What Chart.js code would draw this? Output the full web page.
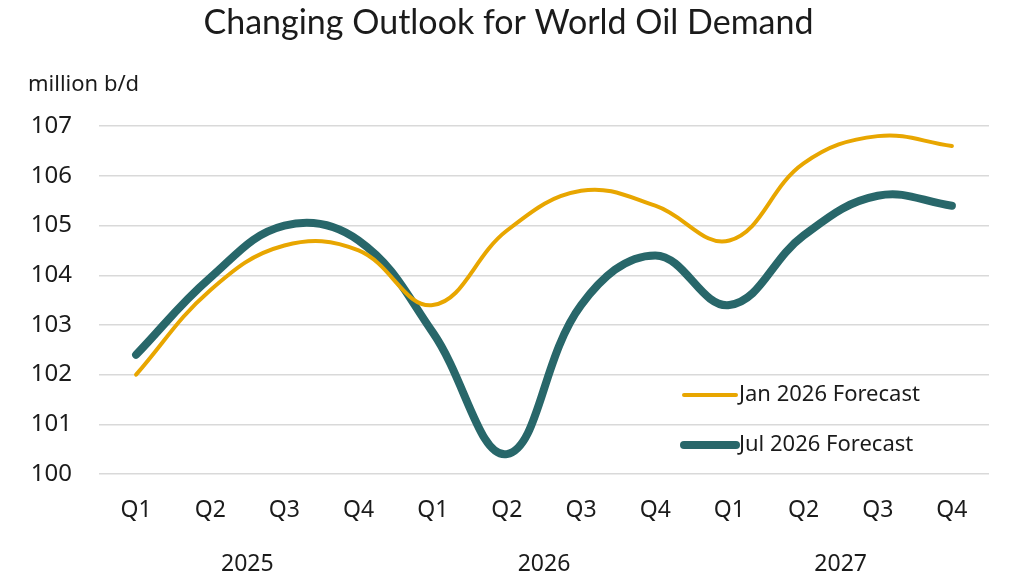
<!DOCTYPE html>
<html>
<head>
<meta charset="utf-8">
<title>Changing Outlook for World Oil Demand</title>
<script src="https://cdn.jsdelivr.net/npm/chart.js@4.4.1/dist/chart.umd.min.js"></script>
<style>
    html, body { margin: 0; padding: 0; background: #fff; }
    #wrap { width: 1024px; height: 579px; }
</style>
</head>
<body>
<div id="wrap"><canvas id="myChart" width="1024" height="579"></canvas></div>
<script>
// data
const quarters = ['Q1', 'Q2', 'Q3', 'Q4', 'Q1', 'Q2', 'Q3', 'Q4', 'Q1', 'Q2', 'Q3', 'Q4']
const years = ['2025', '2026', '2027']
const jan2026 = [102.0, 103.7, 104.6, 104.5, 103.4, 104.9, 105.7, 105.4, 104.7, 106.25, 106.8, 106.6]
const jul2026 = [102.4, 103.95, 105.0, 104.7, 102.85, 100.4, 103.4, 104.4, 103.4, 104.8, 105.6, 105.4]
const yTicks = [100, 107]

const GOLD = '#E8A600'
const TEAL = '#28676A'
const TEXT = '#1b1b1b'

// legend drawn inside the plot, next to the lower right corner
const insideLegend = {
    id: 'insideLegend',
    afterDatasetsDraw(chart, args, opts) {
        const ctx = chart.ctx
        ctx.save()
        chart.data.datasets.forEach((ds, i) => {
            const y = opts.top + i * opts.gap
            ctx.beginPath()
            ctx.lineCap = 'round'
            ctx.strokeStyle = ds.borderColor
            ctx.lineWidth = ds.borderWidth
            ctx.moveTo(opts.left, y)
            ctx.lineTo(opts.left + opts.lineLen, y)
            ctx.stroke()
            ctx.fillStyle = TEXT
            ctx.font = opts.font
            ctx.textBaseline = 'middle'
            ctx.fillText(ds.label, opts.left + opts.lineLen + 3, y)
        })
        ctx.restore()
    }
}

function chart() {
    const data = {
        labels: quarters,
        datasets: [
            {
                label: 'Jan 2026 Forecast',
                data: jan2026,
                borderColor: GOLD,
                borderWidth: 4,
                tension: 0.4,
                pointRadius: 0,
                borderCapStyle: 'round',
                borderJoinStyle: 'round'
            },
            {
                label: 'Jul 2026 Forecast',
                data: jul2026,
                borderColor: TEAL,
                borderWidth: 8,
                tension: 0.4,
                pointRadius: 0,
                borderCapStyle: 'round',
                borderJoinStyle: 'round'
            }
        ]
    }

    const config = {
        type: 'line',
        data: data,
        options: {
            responsive: false,
            animation: false,
            layout: { padding: { left: 28, right: 35, top: 0, bottom: 4 } },
            scales: {
                x: {
                    offset: true,
                    grid: { display: false },
                    border: { display: false },
                    afterFit: (s) => { s.height = 48 },
                    ticks: {
                        padding: 15,
                        color: TEXT,
                        font: { family: 'Noto Sans', size: 23 }
                    }
                },
                year: {
                    type: 'category',
                    labels: years,
                    position: 'bottom',
                    offset: true,
                    grid: { display: false },
                    border: { display: false },
                    afterFit: (s) => { s.height = 53 },
                    ticks: {
                        padding: 21,
                        color: TEXT,
                        font: { family: 'Noto Sans', size: 23 }
                    }
                },
                y: {
                    min: yTicks[0],
                    max: yTicks[1],
                    border: { display: false },
                    grid: { color: '#d9d9d9', lineWidth: 1.5, drawTicks: false },
                    afterFit: (s) => { s.width = 71 },
                    ticks: {
                        stepSize: 1,
                        padding: 27,
                        color: TEXT,
                        font: { family: 'Noto Sans', size: 24 }
                    }
                }
            },
            plugins: {
                legend: { display: false },
                tooltip: { enabled: false },
                title: {
                    display: true,
                    text: 'Changing Outlook for World Oil Demand',
                    color: TEXT,
                    font: { family: 'Lato', size: 34, weight: 'normal' },
                    padding: { top: 3, bottom: 28 }
                },
                subtitle: {
                    display: true,
                    text: 'million b/d',
                    align: 'start',
                    color: TEXT,
                    font: { family: 'Noto Sans', size: 22 },
                    padding: { top: 0, bottom: 28 }
                },
                insideLegend: {
                    left: 684,
                    top: 395,
                    gap: 50,
                    lineLen: 52,
                    font: '22px "Noto Sans"'
                }
            }
        },
        plugins: [insideLegend]
    }

    new Chart(document.getElementById('myChart'), config)
}
chart()
</script>
</body>
</html>
